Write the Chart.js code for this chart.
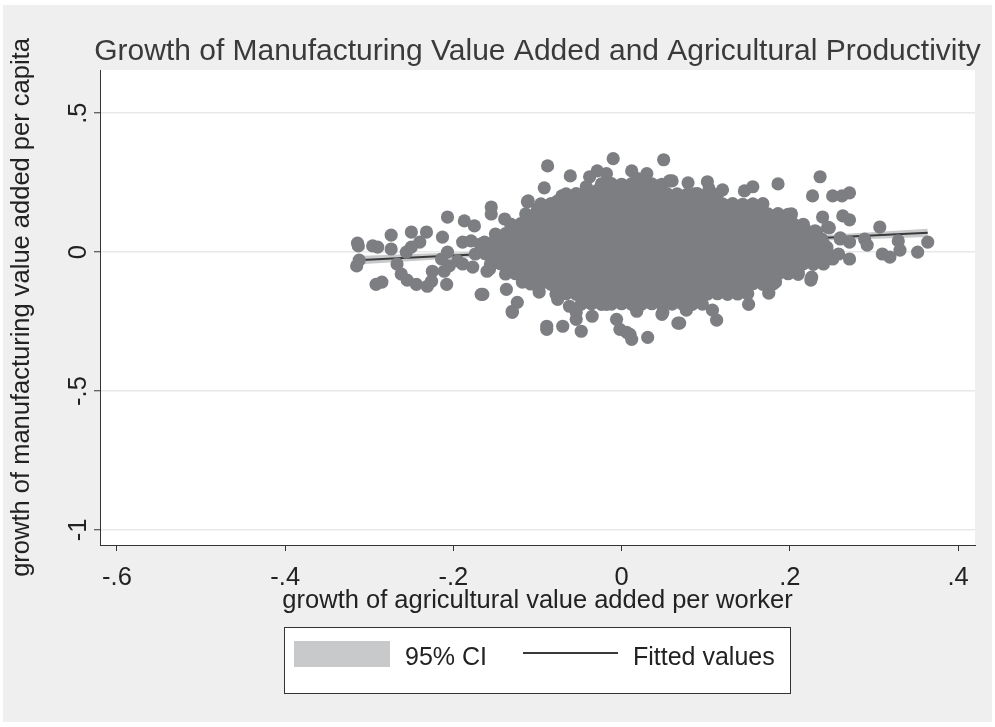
<!DOCTYPE html>
<html>
<head>
<meta charset="utf-8">
<script src="https://cdn.jsdelivr.net/npm/chart.js@4.4.1/dist/chart.umd.min.js"></script>
<style>
  html, body { margin: 0; padding: 0; background: #ffffff; }
  canvas { display: block; }
</style>
</head>
<body>
<canvas id="growthChart" width="995" height="727"></canvas>
<script>
// ---- texts ----
const chartTitle = 'Growth of Manufacturing Value Added and Agricultural Productivity';
const xAxisTitle = 'growth of agricultural value added per worker';
const yAxisTitle = 'growth of manufacturing value added per capita';
const legendLabels = ['95% CI', 'Fitted values'];

// ---- tick values and their labels ----
const xTickValues = [-0.6, -0.4, -0.2, 0, 0.2, 0.4];
const xTickLabels = ['-.6', '-.4', '-.2', '0', '.2', '.4'];
const yTickValues = [-1, -0.5, 0, 0.5];
const yTickLabels = ['-1', '-.5', '0', '.5'];

// ---- linear fit with 95% confidence band ----
const fitX     = [-0.315, -0.2, -0.1, 0, 0.1, 0.2, 0.364];
const fitY     = [-0.0293, -0.0126, 0.0019, 0.0164, 0.0309, 0.0454, 0.0692];
const ciUpper  = [-0.0141, -0.0020, 0.0087, 0.0206, 0.0359, 0.0537, 0.0841];
const ciLower  = [-0.0445, -0.0232, -0.0049, 0.0122, 0.0259, 0.0371, 0.0543];

// ---- observations: [agricultural growth, manufacturing growth] ----
const observations = [
  // left tail
  [-0.313,0.022],[-0.296,0.022],[-0.290,0.018],[-0.274,0.061],[-0.274,0.011],[-0.250,0.072],[-0.232,0.072],
  [-0.240,0.036],[-0.250,0.018],[-0.256,0.000],[-0.312,-0.029],[-0.315,-0.050],[-0.267,-0.043],[-0.262,-0.079],
  [-0.255,-0.101],[-0.244,-0.116],[-0.292,-0.116],[-0.285,-0.108],[-0.231,-0.123],[-0.225,-0.069],[-0.226,-0.105],
  [-0.208,-0.116],[-0.207,0.126],[-0.213,0.054],[-0.214,-0.025],[-0.207,0.000],[-0.205,-0.050],[-0.211,-0.069],
  [-0.187,0.112],[-0.175,0.094],[-0.189,0.036],[-0.195,-0.032],[-0.189,-0.043],[-0.177,-0.054],[-0.167,-0.152],
  [-0.155,0.162],[-0.155,0.137],[-0.139,0.119],[-0.137,-0.134],[-0.160,-0.069],[-0.130,-0.217],[-0.124,-0.181],
  [-0.112,0.181],[-0.100,0.155],[-0.143,0.029],[-0.163,0.036],[-0.151,-0.032],[-0.131,-0.014],[-0.179,0.040],
  [-0.113,-0.090],[-0.314,0.032],
  // upper fringe
  [-0.088,0.310],[-0.010,0.336],[0.050,0.332],[-0.061,0.274],[-0.092,0.231],[-0.111,0.184],[-0.100,0.152],
  [-0.071,0.202],[-0.076,0.184],[-0.038,0.271],[-0.029,0.292],[-0.018,0.282],[-0.042,0.235],[-0.030,0.220],
  [-0.052,0.184],[0.012,0.292],[0.030,0.282],[0.019,0.264],[0.057,0.256],[0.045,0.238],[0.021,0.231],
  [0.037,0.209],[-0.026,0.184],[-0.011,0.202],[0.006,0.199],[0.055,0.202],
  [0.060,0.256],[0.079,0.249],[0.102,0.253],[0.104,0.227],[0.087,0.209],[0.120,0.224],[0.146,0.220],
  [0.156,0.235],[0.186,0.245],[0.167,0.166],[0.236,0.271],[0.227,0.202],[0.251,0.202],[0.262,0.202],
  [0.271,0.213],[0.202,0.137],[0.239,0.126],[0.263,0.130],[0.271,0.116],[0.218,0.083],[0.245,0.090],
  [0.260,0.051],[0.271,0.036],[0.244,0.018],[0.232,0.072],[0.144,0.155],[0.125,0.166],[0.069,0.180],
  // right tail
  [0.230,0.076],[0.247,0.087],[0.238,0.047],[0.260,0.047],[0.289,0.047],[0.292,0.025],[0.307,0.090],
  [0.329,0.040],[0.331,0.007],[0.310,-0.007],[0.319,-0.018],[0.352,0.000],[0.364,0.036],[0.271,-0.025],
  [0.251,-0.025],[0.244,0.011],[0.226,-0.090],[0.220,-0.025],
  // lower fringe
  [0.225,-0.101],[0.210,-0.072],[0.175,-0.148],[0.151,-0.188],[0.113,-0.245],[0.108,-0.209],[0.077,-0.209],
  [0.069,-0.256],[0.031,-0.307],[0.012,-0.314],[0.095,-0.152],[0.183,-0.108],[0.006,-0.289],[0.049,-0.217],
  [0.131,-0.090],[0.158,-0.097],
  [-0.165,-0.152],[-0.130,-0.213],[-0.089,-0.267],[-0.089,-0.278],[-0.070,-0.267],[-0.048,-0.285],[-0.054,-0.242],
  [-0.006,-0.242],[-0.002,-0.278],[0.010,-0.296],[0.048,-0.224],[0.067,-0.256],[-0.157,-0.061],[-0.118,-0.108],
  [-0.098,-0.144],[-0.076,-0.170],[-0.062,-0.195],[-0.054,-0.217],[-0.035,-0.231],[-0.018,-0.188],[0.018,-0.213],
  [0.037,-0.170],[0.018,-0.159],[-0.038,-0.144],
  // dense centre
  [-0.024,0.245],[-0.012,0.246],[0.000,0.244],[0.012,0.246],[0.024,0.244],[0.036,0.245],[0.048,0.244],
  [-0.066,0.209],[-0.054,0.210],[-0.042,0.208],[-0.030,0.209],[-0.018,0.210],[-0.006,0.208],[0.006,0.209],
  [0.018,0.210],[0.030,0.209],[0.042,0.208],[0.054,0.210],[0.066,0.209],[0.078,0.208],[0.090,0.210],
  [0.102,0.209],[0.114,0.208],
  [-0.096,0.173],[-0.084,0.174],[-0.072,0.172],[-0.060,0.173],[-0.048,0.174],[-0.036,0.172],[-0.024,0.173],
  [-0.012,0.174],[0.000,0.172],[0.012,0.173],[0.024,0.174],[0.036,0.172],[0.048,0.173],[0.060,0.174],
  [0.072,0.172],[0.084,0.173],[0.096,0.174],[0.108,0.172],[0.120,0.173],[0.132,0.174],[0.144,0.172],
  [0.156,0.173],[0.168,0.174],
  [-0.114,0.137],[-0.102,0.138],[-0.090,0.136],[-0.078,0.137],[-0.066,0.138],[-0.054,0.136],[-0.042,0.137],
  [-0.030,0.138],[-0.018,0.136],[-0.006,0.137],[0.006,0.138],[0.018,0.136],[0.030,0.137],[0.042,0.138],
  [0.054,0.136],[0.066,0.137],[0.078,0.138],[0.090,0.136],[0.102,0.137],[0.114,0.138],[0.126,0.136],
  [0.138,0.137],[0.150,0.138],[0.162,0.136],[0.174,0.137],[0.186,0.138],[0.198,0.136],
  [-0.132,0.101],[-0.120,0.102],[-0.108,0.100],[-0.096,0.101],[-0.084,0.102],[-0.072,0.100],[-0.060,0.101],
  [-0.048,0.102],[-0.036,0.100],[-0.024,0.101],[-0.012,0.102],[0.000,0.100],[0.012,0.101],[0.024,0.102],
  [0.036,0.100],[0.048,0.101],[0.060,0.102],[0.072,0.100],[0.084,0.101],[0.096,0.102],[0.108,0.100],
  [0.120,0.101],[0.132,0.102],[0.144,0.100],[0.156,0.101],[0.168,0.102],[0.180,0.100],[0.192,0.101],
  [0.204,0.102],[0.216,0.100],
  [-0.150,0.065],[-0.138,0.066],[-0.126,0.064],[-0.114,0.065],[-0.102,0.066],[-0.090,0.064],[-0.078,0.065],
  [-0.066,0.066],[-0.054,0.064],[-0.042,0.065],[-0.030,0.066],[-0.018,0.064],[-0.006,0.065],[0.006,0.066],
  [0.018,0.064],[0.030,0.065],[0.042,0.066],[0.054,0.064],[0.066,0.065],[0.078,0.066],[0.090,0.064],
  [0.102,0.065],[0.114,0.066],[0.126,0.064],[0.138,0.065],[0.150,0.066],[0.162,0.064],[0.174,0.065],
  [0.186,0.066],[0.198,0.064],[0.210,0.065],[0.222,0.066],
  [-0.168,0.029],[-0.156,0.030],[-0.144,0.028],[-0.132,0.029],[-0.120,0.030],[-0.108,0.028],[-0.096,0.029],
  [-0.084,0.030],[-0.072,0.028],[-0.060,0.029],[-0.048,0.030],[-0.036,0.028],[-0.024,0.029],[-0.012,0.030],
  [0.000,0.028],[0.012,0.029],[0.024,0.030],[0.036,0.028],[0.048,0.029],[0.060,0.030],[0.072,0.028],
  [0.084,0.029],[0.096,0.030],[0.108,0.028],[0.120,0.029],[0.132,0.030],[0.144,0.028],[0.156,0.029],
  [0.168,0.030],[0.180,0.028],[0.192,0.029],[0.204,0.030],[0.216,0.028],[0.228,0.029],[0.240,0.030],
  [-0.174,-0.007],[-0.162,-0.006],[-0.150,-0.008],[-0.138,-0.007],[-0.126,-0.006],[-0.114,-0.008],[-0.102,-0.007],
  [-0.090,-0.006],[-0.078,-0.008],[-0.066,-0.007],[-0.054,-0.006],[-0.042,-0.008],[-0.030,-0.007],[-0.018,-0.006],
  [-0.006,-0.008],[0.006,-0.007],[0.018,-0.006],[0.030,-0.008],[0.042,-0.007],[0.054,-0.006],[0.066,-0.008],
  [0.078,-0.007],[0.090,-0.006],[0.102,-0.008],[0.114,-0.007],[0.126,-0.006],[0.138,-0.008],[0.150,-0.007],
  [0.162,-0.006],[0.174,-0.008],[0.186,-0.007],[0.198,-0.006],[0.210,-0.008],[0.222,-0.007],[0.234,-0.006],
  [0.246,-0.008],[0.258,-0.007],
  [-0.156,-0.043],[-0.144,-0.042],[-0.132,-0.044],[-0.120,-0.043],[-0.108,-0.042],[-0.096,-0.044],[-0.084,-0.043],
  [-0.072,-0.042],[-0.060,-0.044],[-0.048,-0.043],[-0.036,-0.042],[-0.024,-0.044],[-0.012,-0.043],[0.000,-0.042],
  [0.012,-0.044],[0.024,-0.043],[0.036,-0.042],[0.048,-0.044],[0.060,-0.043],[0.072,-0.042],[0.084,-0.044],
  [0.096,-0.043],[0.108,-0.042],[0.120,-0.044],[0.132,-0.043],[0.144,-0.042],[0.156,-0.044],[0.168,-0.043],
  [0.180,-0.042],[0.192,-0.044],[0.204,-0.043],[0.216,-0.042],[0.228,-0.044],[0.240,-0.043],
  [-0.138,-0.079],[-0.126,-0.078],[-0.114,-0.080],[-0.102,-0.079],[-0.090,-0.078],[-0.078,-0.080],[-0.066,-0.079],
  [-0.054,-0.078],[-0.042,-0.080],[-0.030,-0.079],[-0.018,-0.078],[-0.006,-0.080],[0.006,-0.079],[0.018,-0.078],
  [0.030,-0.080],[0.042,-0.079],[0.054,-0.078],[0.066,-0.080],[0.078,-0.079],[0.090,-0.078],[0.102,-0.080],
  [0.114,-0.079],[0.126,-0.078],[0.138,-0.080],[0.150,-0.079],[0.162,-0.078],[0.174,-0.080],[0.186,-0.079],
  [0.198,-0.078],[0.210,-0.080],
  [-0.108,-0.115],[-0.096,-0.114],[-0.084,-0.116],[-0.072,-0.115],[-0.060,-0.114],[-0.048,-0.116],[-0.036,-0.115],
  [-0.024,-0.114],[-0.012,-0.116],[0.000,-0.115],[0.012,-0.114],[0.024,-0.116],[0.036,-0.115],[0.048,-0.114],
  [0.060,-0.116],[0.072,-0.115],[0.084,-0.114],[0.096,-0.116],[0.108,-0.115],[0.120,-0.114],[0.132,-0.116],
  [0.144,-0.115],[0.156,-0.114],[0.168,-0.116],[0.180,-0.115],
  [-0.078,-0.151],[-0.066,-0.150],[-0.054,-0.152],[-0.042,-0.151],[-0.030,-0.150],[-0.018,-0.152],[-0.006,-0.151],
  [0.006,-0.150],[0.018,-0.152],[0.030,-0.151],[0.042,-0.150],[0.054,-0.152],[0.066,-0.151],[0.078,-0.150],
  [0.090,-0.152],[0.102,-0.151],[0.114,-0.150],[0.126,-0.152],[0.138,-0.151],[0.150,-0.150],
  [-0.048,-0.187],[-0.036,-0.186],[-0.024,-0.188],[-0.012,-0.187],[0.000,-0.186],[0.012,-0.188],[0.024,-0.187],
  [0.036,-0.186],[0.048,-0.188],[0.060,-0.187],[0.072,-0.186],[0.084,-0.188],[0.096,-0.187]
];

// ---- styling ----
const FONT_FAMILY = '"Liberation Sans", Arial, Helvetica, sans-serif';
const TEXT_COLOR = '#222222';
const TITLE_COLOR = '#3a3a3a';
const MARKER_COLOR = '#7d7e82';
const BAND_COLOR = '#c8c9cb';
const FIT_COLOR = '#3a3a3a';
const AXIS_COLOR = '#333333';
const FRAME_COLOR = '#efefef';

Chart.defaults.font.family = FONT_FAMILY;

const toPoints = (xs, ys) => xs.map((x, i) => ({ x: x, y: ys[i] }));

// Page frame, white plot region, title, rotated y tick labels and the boxed legend
const stataDecor = {
  id: 'stataDecor',
  beforeDraw(chart) {
    const ctx = chart.ctx;
    const area = chart.chartArea;
    ctx.save();
    ctx.fillStyle = '#ffffff';
    ctx.fillRect(0, 0, chart.width, chart.height);
    ctx.fillStyle = FRAME_COLOR;
    ctx.fillRect(3, 5, chart.width - 6, chart.height - 10);
    ctx.fillStyle = '#ffffff';
    ctx.fillRect(area.left, area.top, area.right - area.left, area.bottom - area.top);
    ctx.restore();
  },
  afterDraw(chart) {
    const ctx = chart.ctx;
    const area = chart.chartArea;
    const yScale = chart.scales.y;
    ctx.save();

    // title
    ctx.fillStyle = TITLE_COLOR;
    ctx.font = '30px ' + FONT_FAMILY;
    ctx.textAlign = 'center';
    ctx.textBaseline = 'alphabetic';
    ctx.fillText(chartTitle, (area.left + area.right) / 2, 60);

    // y tick labels, written vertically
    ctx.fillStyle = TEXT_COLOR;
    ctx.font = '25.5px ' + FONT_FAMILY;
    yTickValues.forEach((v, i) => {
      const py = yScale.getPixelForValue(v);
      ctx.save();
      ctx.translate(area.left - 14, py);
      ctx.rotate(-Math.PI / 2);
      ctx.textAlign = 'center';
      ctx.textBaseline = 'alphabetic';
      ctx.fillText(yTickLabels[i], 0, 0);
      ctx.restore();
    });

    // legend
    const band = chart.data.datasets[2];
    const fit = chart.data.datasets[1];
    const box = { x: 284, y: 627, w: 507, h: 67 };
    ctx.fillStyle = '#ffffff';
    ctx.fillRect(box.x, box.y, box.w, box.h);
    ctx.strokeStyle = AXIS_COLOR;
    ctx.lineWidth = 1;
    ctx.strokeRect(box.x + 0.5, box.y + 0.5, box.w - 1, box.h - 1);
    ctx.fillStyle = band.backgroundColor;
    ctx.fillRect(box.x + 10, box.y + 14, 96, 26);
    ctx.strokeStyle = fit.borderColor;
    ctx.lineWidth = fit.borderWidth;
    ctx.beginPath();
    ctx.moveTo(box.x + 239, box.y + 26);
    ctx.lineTo(box.x + 334, box.y + 26);
    ctx.stroke();
    ctx.fillStyle = TEXT_COLOR;
    ctx.font = '25px ' + FONT_FAMILY;
    ctx.textAlign = 'left';
    ctx.textBaseline = 'alphabetic';
    ctx.fillText(band.label, box.x + 121, box.y + 38);
    ctx.fillText(fit.label, box.x + 349, box.y + 38);
    ctx.restore();
  }
};

new Chart(document.getElementById('growthChart'), {
  type: 'scatter',
  data: {
    datasets: [
      {
        label: 'observations',
        data: observations.map(([x, y]) => ({ x: x, y: y })),
        backgroundColor: MARKER_COLOR,
        borderColor: MARKER_COLOR,
        borderWidth: 0,
        pointRadius: 6.6,
        pointHoverRadius: 6.6,
        order: 0
      },
      {
        label: legendLabels[1],
        data: toPoints(fitX, fitY),
        showLine: true,
        borderColor: FIT_COLOR,
        borderWidth: 2,
        pointRadius: 0,
        fill: false,
        order: 1
      },
      {
        label: legendLabels[0],
        data: toPoints(fitX, ciUpper),
        showLine: true,
        borderColor: 'rgba(0,0,0,0)',
        borderWidth: 0,
        backgroundColor: BAND_COLOR,
        pointRadius: 0,
        fill: '+1',
        order: 2
      },
      {
        label: 'lower bound',
        data: toPoints(fitX, ciLower),
        showLine: true,
        borderColor: 'rgba(0,0,0,0)',
        borderWidth: 0,
        pointRadius: 0,
        fill: false,
        order: 3
      }
    ]
  },
  options: {
    responsive: false,
    animation: false,
    devicePixelRatio: 1,
    events: [],
    layout: { padding: { left: 0, right: 20, top: 70, bottom: 0 }, autoPadding: false },
    plugins: {
      legend: { display: false },
      tooltip: { enabled: false },
      title: { display: false }
    },
    scales: {
      x: {
        type: 'linear',
        position: 'bottom',
        min: -0.6202,
        max: 0.4202,
        afterFit(scale) { scale.height = 182; },
        afterBuildTicks(scale) { scale.ticks = xTickValues.map(v => ({ value: v })); },
        ticks: {
          autoSkip: false,
          maxRotation: 0,
          minRotation: 0,
          padding: 12,
          color: TEXT_COLOR,
          font: { size: 25.5 },
          callback: (value, index) => xTickLabels[index]
        },
        grid: { drawOnChartArea: false, drawTicks: true, tickLength: 6, tickColor: AXIS_COLOR, tickWidth: 1 },
        border: { display: true, color: AXIS_COLOR, width: 1 },
        title: {
          display: true,
          text: xAxisTitle,
          color: TEXT_COLOR,
          font: { size: 25.5 },
          padding: { top: 0, bottom: 111 }
        }
      },
      y: {
        type: 'linear',
        min: -1.054,
        max: 0.655,
        afterFit(scale) { scale.width = 100; },
        afterBuildTicks(scale) { scale.ticks = yTickValues.map(v => ({ value: v })); },
        ticks: { display: false },
        grid: { color: '#e8e8e8', lineWidth: 1.5, drawTicks: true, tickLength: 6, tickColor: AXIS_COLOR, tickWidth: 1 },
        border: { display: true, color: AXIS_COLOR, width: 1 },
        title: {
          display: true,
          text: yAxisTitle,
          color: TEXT_COLOR,
          font: { size: 25.5 },
          padding: { top: 7, bottom: 0 }
        }
      }
    }
  },
  plugins: [stataDecor]
});
</script>
</body>
</html>
